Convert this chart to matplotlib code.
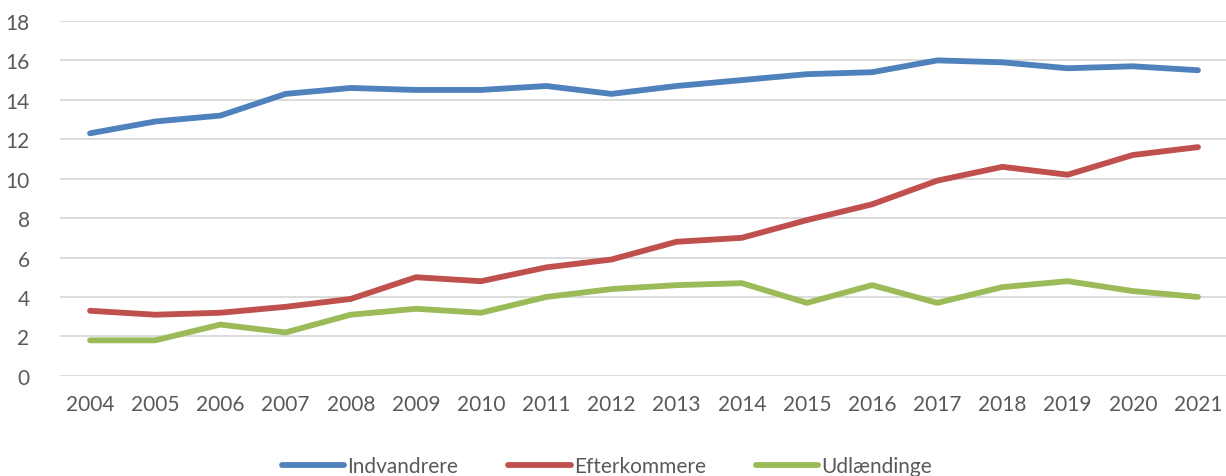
import matplotlib.pyplot as plt

years = list(range(2004, 2022))
indvandrere = [12.3, 12.9, 13.2, 14.3, 14.6, 14.5, 14.5, 14.7, 14.3, 14.7,
               15.0, 15.3, 15.4, 16.0, 15.9, 15.6, 15.7, 15.5]
efterkommere = [3.3, 3.1, 3.2, 3.5, 3.9, 5.0, 4.8, 5.5, 5.9, 6.8,
                7.0, 7.9, 8.7, 9.9, 10.6, 10.2, 11.2, 11.6]
udlaendinge = [1.8, 1.8, 2.6, 2.2, 3.1, 3.4, 3.2, 4.0, 4.4, 4.6,
               4.7, 3.7, 4.6, 3.7, 4.5, 4.8, 4.3, 4.0]

plt.rcParams['font.family'] = ['Lato', 'DejaVu Sans']

fig = plt.figure(figsize=(12.26, 4.77), dpi=100)
ax = fig.add_axes([0.049, 0.21, 0.951, 0.744])

x = range(len(years))
ax.plot(x, indvandrere, color='#4F81BD', lw=4.2, label='Indvandrere', solid_capstyle='round')
ax.plot(x, efterkommere, color='#C0504D', lw=4.2, label='Efterkommere', solid_capstyle='round')
ax.plot(x, udlaendinge, color='#9BBB59', lw=4.2, label='Udlændinge', solid_capstyle='round')

ax.set_xlim(-0.46, 17.43)
ax.set_ylim(0, 18)
ax.set_yticks(range(0, 19, 2))
ax.set_xticks(list(x))
ax.set_xticklabels([str(y) for y in years])
ax.grid(axis='y', color='#D9D9D9', lw=1.3)
ax.set_axisbelow(True)
for s in ax.spines.values():
    s.set_visible(False)
ax.tick_params(length=0, labelsize=15, colors='#595959')
ax.tick_params(axis='x', pad=13)
ax.tick_params(axis='y', pad=22)

fig.legend(loc='center', bbox_to_anchor=(0.495, 0.02), ncol=3, frameon=False,
           fontsize=15, handlelength=3.0, columnspacing=2.4, handletextpad=0.15,
           labelcolor='#595959')

fig.savefig('out.png', dpi=100)
